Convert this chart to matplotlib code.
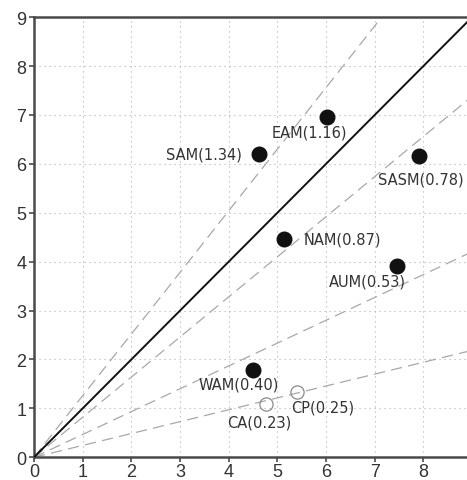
import numpy as np
import matplotlib
matplotlib.use("Agg")
import matplotlib.pyplot as plt

# ── Data ──────────────────────────────────────────────────────────────────────
FILLED_NAMES = ["SAM(1.34)", "EAM(1.16)", "SASM(0.78)", "NAM(0.87)", "AUM(0.53)", "WAM(0.40)"]
FILLED_X     = [4.62, 6.01, 7.91, 5.13, 7.46, 4.50]
FILLED_Y     = [6.20, 6.95, 6.17, 4.46, 3.92, 1.79]
OPEN_NAMES   = ["CA(0.23)", "CP(0.25)"]
OPEN_X       = [4.77, 5.40]
OPEN_Y       = [1.10, 1.34]
REF_SLOPES   = [1.26, 0.82, 0.467, 0.243]

# label anchors (left edge / right edge of text, centre height)
FILLED_LBL = [(4.27, 6.20, "right"), (4.88, 6.65, "left"), (7.07, 5.69, "left"),
              (5.53, 4.47, "left"), (6.05, 3.61, "left"), (3.38, 1.50, "left")]
OPEN_LBL   = [(3.96, 0.72, "left"), (5.29, 1.02, "left")]

TXT = "#333333"
SPINE = "#4a4a4a"

fig = plt.figure(figsize=(4.67, 4.81), dpi=100)
ax = fig.add_axes([0.0728, 0.0472, 0.938, 0.915])

xs = np.array([0, 9.0])
for k in REF_SLOPES:
    ax.plot(xs, k * xs, color="#a8a8a8", lw=0.9, dashes=(9, 5), zorder=2)
ax.plot(xs, xs, color="#111111", lw=1.4, zorder=3)

ax.plot(FILLED_X, FILLED_Y, "o", ms=10.5, color="#111111", zorder=4)
ax.plot(OPEN_X, OPEN_Y, "o", ms=9.5, mfc="none", mec="#8a8a8a", mew=0.9, zorder=4)

for (x, y, ha), name in zip(FILLED_LBL, FILLED_NAMES):
    ax.text(x, y, name, ha=ha, va="center", fontsize=10.5, color=TXT, zorder=5)
for (x, y, ha), name in zip(OPEN_LBL, OPEN_NAMES):
    ax.text(x, y, name, ha=ha, va="center", fontsize=10.5, color=TXT, zorder=5)

ax.set_xlim(0, 9)
ax.set_ylim(0, 9)
ax.set_xticks(range(10))
ax.set_yticks(range(10))
ax.grid(True, color="#b0b0b0", lw=0.8, ls=(0, (1, 3.5)))
ax.tick_params(direction="out", length=3.5, width=1.2, color=SPINE,
               labelsize=13, labelcolor=TXT)
ax.tick_params(axis="x", pad=0.5)
ax.tick_params(axis="y", pad=2)
for lbl in ax.get_xticklabels() + ax.get_yticklabels():
    lbl.set_fontfamily("Liberation Sans")
for side in ["left", "bottom", "top"]:
    ax.spines[side].set_color(SPINE)
    ax.spines[side].set_linewidth(1.8)
ax.spines["right"].set_visible(False)
ax.set_axisbelow(True)

fig.savefig("out.png", dpi=100)
